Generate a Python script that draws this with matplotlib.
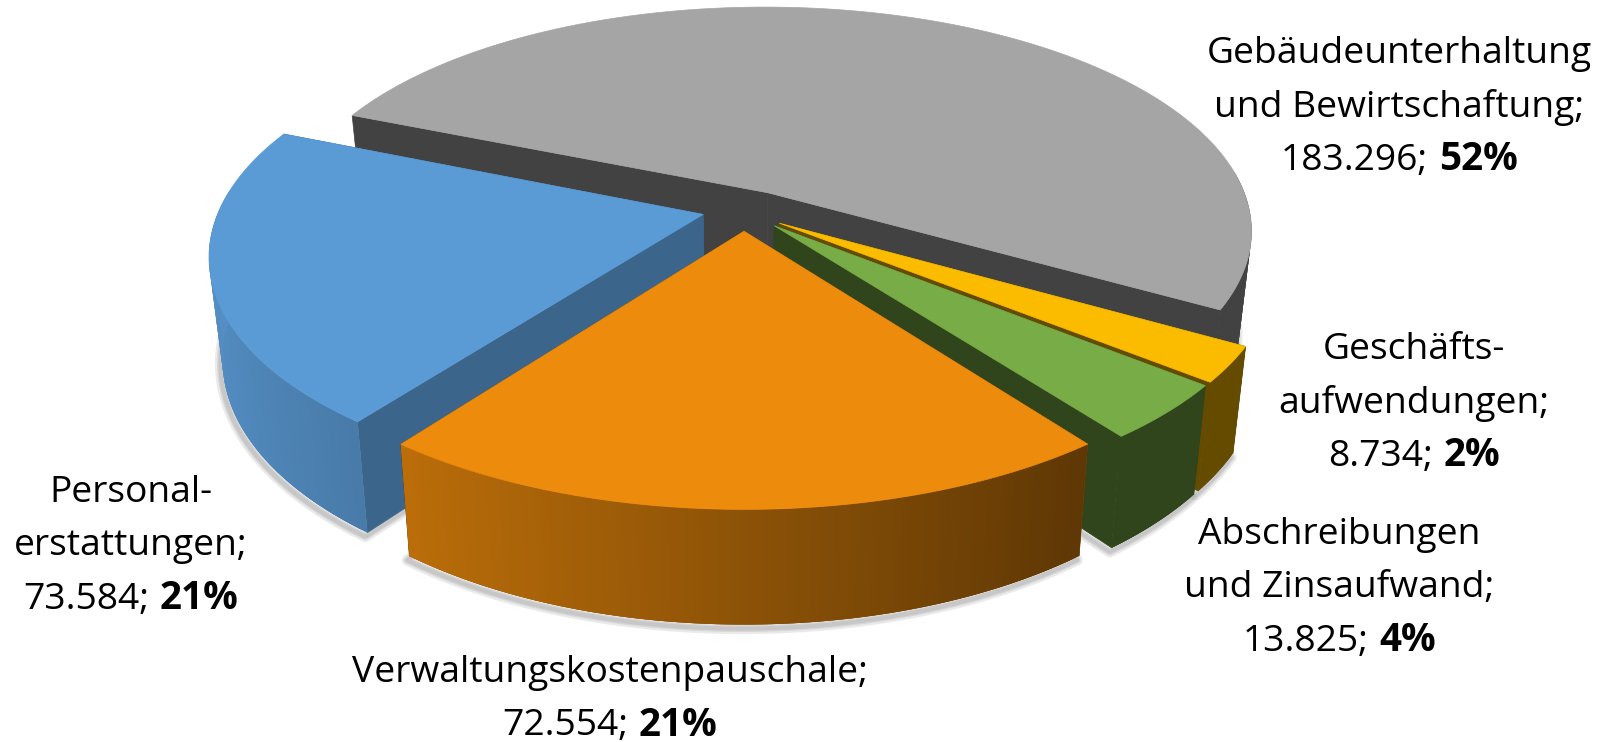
import matplotlib
matplotlib.use('Agg')
import matplotlib.pyplot as plt
import numpy as np
from matplotlib.collections import PolyCollection
from matplotlib.colors import to_rgb
from matplotlib.patches import Polygon

# Data, clockwise from the first slice
categories = [['Gebäudeunterhaltung', 'und Bewirtschaftung;'],
              ['Geschäfts-', 'aufwendungen;'],
              ['Abschreibungen', 'und Zinsaufwand;'],
              ['Verwaltungskostenpauschale;'],
              ['Personal-', 'erstattungen;']]
values = [183296, 8734, 13825, 72554, 73584]
colors = ['#A5A5A5', '#FBBC00', '#78AC47', '#ED8B0C', '#5B9BD5']
radial_shade = [0.40, 0.40, 0.40, 0.40, 0.65]
label_x = [1399, 1414, 1339, 610, 131]
label_y = [63, 359, 544, 682, 502]
nudge_x = [3, -5, -4, 0, 6]
nudge_y = [5, 3, 2, 1, 1]
draw_order = [0, 1, 2, 4, 3]

# Pie geometry in pixels
start_angle = 157.67
cx, cy = 744, 207.5
rx, ry = 483.5, 223
depth = 100
explode = 0.10
persp = 0.168
taper = 0.025
line_h = 53.5


def project(u, v, z, i):
    w = 1 + persp * v
    s = 1 - taper * z
    return np.column_stack([cx + nudge_x[i] + s * rx * u / w, cy + nudge_y[i] - s * ry * v / w + z * depth / w])


def slice_points(a0, a1):
    n = max(8, int(abs(a1 - a0) / 0.75))
    ang = np.radians(np.linspace(a0, a1, n))
    mid = np.radians((a0 + a1) / 2)
    ox, oy = explode * np.cos(mid), explode * np.sin(mid)
    return ang, ox, oy


def shade(rgb, f):
    return tuple(c * f for c in rgb)


def wall_factor(a):
    return max(0.40, 0.595 - 0.325 * np.cos(a))


fig = plt.figure(figsize=(16.03, 7.42), dpi=100)
ax = fig.add_axes([0, 0, 1, 1])
ax.set_xlim(0, 1603)
ax.set_ylim(742, 0)
ax.axis('off')

total = sum(values)
angles = [start_angle]
for val in values:
    angles.append(angles[-1] - val / total * 360)

# Soft shadow below the pie
for i in draw_order:
    ang, ox, oy = slice_points(angles[i], angles[i + 1])
    u = np.r_[ox, ox + np.cos(ang)]
    v = np.r_[oy, oy + np.sin(ang)]
    pts = project(u, v, 1, i) + [-2, 4]
    for lw in [8, 5, 3]:
        ax.add_patch(Polygon(pts, closed=True, facecolor='none', edgecolor='#555555',
                             lw=lw, alpha=0.12, joinstyle='round', zorder=1))

# Slices back to front
z = 2
for i in draw_order:
    base = to_rgb(colors[i])
    ang, ox, oy = slice_points(angles[i], angles[i + 1])
    rim_u, rim_v = ox + np.cos(ang), oy + np.sin(ang)
    rim_top = project(rim_u, rim_v, 0, i)
    rim_bot = project(rim_u, rim_v, 1, i)
    apex_top = project(np.array([ox]), np.array([oy]), 0, i)[0]
    apex_bot = project(np.array([ox]), np.array([oy]), 1, i)[0]

    # cut faces
    inner = shade(base, radial_shade[i])
    for k in [0, -1]:
        ax.add_patch(Polygon([apex_top, rim_top[k], rim_bot[k], apex_bot], closed=True,
                             facecolor=inner, edgecolor=inner, lw=0.5, zorder=z))
    z += 1

    # outer wall, overlapping strips so no seams show; only the part facing the viewer
    front = np.where(np.sin(ang) <= 0.1)[0]
    mid_col = shade(base, wall_factor(ang[front].mean()))
    ax.add_patch(Polygon(np.vstack([rim_top[front], rim_bot[front][::-1]]), closed=True,
                         facecolor=mid_col, edgecolor='none', zorder=z))
    z += 1
    quads = []
    cols = []
    for k in front[:-1]:
        k2 = min(k + 2, len(ang) - 1)
        quads.append([rim_top[k], rim_top[k2], rim_bot[k2], rim_bot[k]])
        cols.append(shade(base, wall_factor(ang[k])))
    ax.add_collection(PolyCollection(quads, facecolors=cols, edgecolors='none', zorder=z))
    z += 1

    # top face
    ax.add_patch(Polygon(np.vstack([apex_top, rim_top]), closed=True,
                         facecolor=base, edgecolor=base, lw=0.5, zorder=z))
    z += 1

# Labels
font = 'Open Sans'
fs = 26.8
renderer = fig.canvas.get_renderer()
for i in range(len(values)):
    y = label_y[i]
    for line in categories[i]:
        ax.text(label_x[i], y, line, ha='center', va='baseline', family=font, fontsize=fs, color='black', zorder=50)
        y += line_h
    num = f'{values[i]:,}'.replace(',', '.') + ';'
    pct = f'{round(values[i] / total * 100)}%'
    t1 = ax.text(0, y, num, ha='left', va='baseline', family=font, fontsize=fs, color='black', zorder=50)
    t2 = ax.text(0, y, pct, ha='left', va='baseline', family=font, fontsize=fs + 1, fontweight='bold', color='black', zorder=50)
    w1 = t1.get_window_extent(renderer).width + 11
    w2 = t2.get_window_extent(renderer).width
    t1.set_x(label_x[i] - (w1 + w2) / 2)
    t2.set_x(label_x[i] - (w1 + w2) / 2 + w1)

fig.savefig('out.png', dpi=100)
